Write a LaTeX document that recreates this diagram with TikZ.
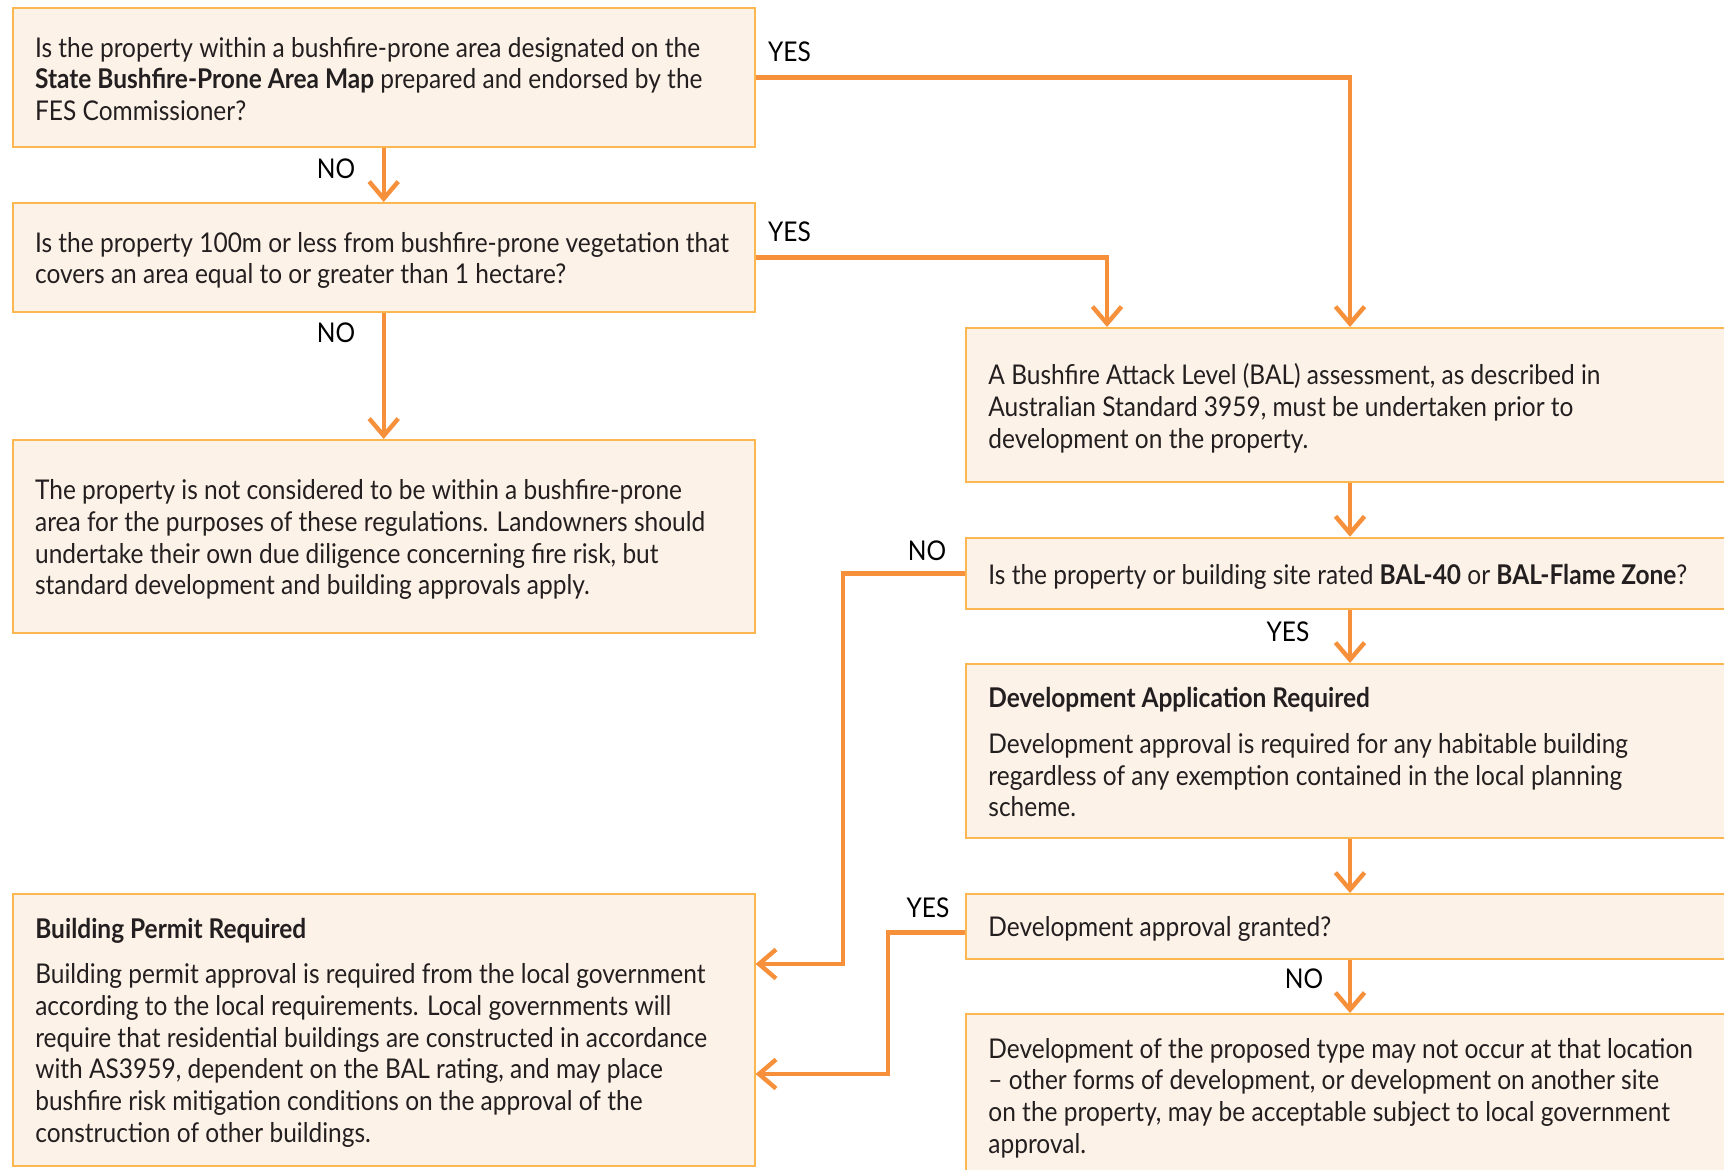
\documentclass[tikz,border=0pt]{standalone}
\usepackage{fontspec}
\setmainfont{Lato}[FakeStretch=0.9]
\usetikzlibrary{arrows.meta}
\definecolor{boxfill}{HTML}{FDF2E7}
\definecolor{boxline}{HTML}{FDB750}
\definecolor{connc}{HTML}{F7903A}
\definecolor{ink}{HTML}{231F20}
\begin{document}
\begin{tikzpicture}[x=0.5pt,y=-0.5pt,
  panel/.style={draw=boxline, fill=boxfill, line width=1pt, inner sep=0pt},
  txt/.style={anchor=base west, inner sep=0pt, text=ink, font=\fontsize{13.6pt}{15.83pt}\selectfont},
  lbl/.style={inner sep=0pt, text=black, font=\fontsize{13.6pt}{15.83pt}\selectfont},
  link/.style={draw=connc, line width=2.2pt, -{Straight Barb[length=8.5pt,width=14.5pt]}}
]
\useasboundingbox (0,0) rectangle (1724,1170);
\clip (0,0) rectangle (1724,1170);
\fill[white] (0,0) rectangle (1724,1170);

% left column boxes
\node[panel, minimum width=370.9pt, minimum height=69.65pt] (q1) at (383.7,77.35) {};
\node[panel, minimum width=370.9pt, minimum height=54.5pt] (q2) at (383.7,257.5) {};
\node[panel, minimum width=370.9pt, minimum height=96.5pt] (notq) at (383.7,536.5) {};
\node[panel, minimum width=370.9pt, minimum height=136pt] (bp) at (383.7,1030) {};
% right column boxes
\node[panel, minimum width=397pt, minimum height=77pt] (bal) at (1363,405) {};
\node[panel, minimum width=397pt, minimum height=35.8pt] (bal40) at (1363,573.5) {};
\node[panel, minimum width=397pt, minimum height=87pt] (devapp) at (1363,751) {};
\node[panel, minimum width=397pt, minimum height=32.5pt] (devok) at (1363,926.5) {};
\node[panel, minimum width=397pt, minimum height=93pt] (last) at (1363,1107) {};

% texts
\node[txt] (q1t) at (34.7,57.3) {\parbox[t]{480pt}{Is the property within a bushfire-prone area designated on the\\
\textbf{State Bushfire-Prone Area Map} prepared and endorsed by the\\
FES Commissioner?}};
\node[txt] (q2t) at (34.7,252.3) {\parbox[t]{480pt}{Is the property 100m or less from bushfire-prone vegetation that\\
covers an area equal to or greater than 1 hectare?}};
\node[txt] (notqt) at (34.7,500) {\parbox[t]{480pt}{The property is not considered to be within a bushfire-prone\\
area for the purposes of these regulations. Landowners should\\
undertake their own due diligence concerning fire risk, but\\
standard development and building approvals apply.}};
\node[txt] (bpt) at (34.9,938.3) {\parbox[t]{480pt}{\textbf{Building Permit Required}\\[7pt]
Building permit approval is required from the local government\\
according to the local requirements. Local governments will\\
require that residential buildings are constructed in accordance\\
with AS3959, dependent on the BAL rating, and may place\\
bushfire risk mitigation conditions on the approval of the\\
construction of other buildings.}};
\node[txt] (balt) at (988,385) {\parbox[t]{480pt}{A Bushfire Attack Level (BAL) assessment, as described in\\
Australian Standard 3959, must be undertaken prior to\\
development on the property.}};
\node[txt] (bal40t) at (988,585) {Is the property or building site rated \textbf{BAL-40} or \textbf{BAL-Flame Zone}?};
\node[txt] (devappt) at (988,707.7) {\parbox[t]{480pt}{\textbf{Development Application Required}\\[7pt]
Development approval is required for any habitable building\\
regardless of any exemption contained in the local planning\\
scheme.}};
\node[txt] (devokt) at (988,936.7) {Development approval granted?};
\node[txt] (lastt) at (988,1058.3) {\parbox[t]{480pt}{Development of the proposed type may not occur at that location\\
– other forms of development, or development on another site\\
on the property, may be acceptable subject to local government\\
approval.}};

% connectors
\coordinate (rc) at (1350,0);
\coordinate (c2) at (1107,0);
\coordinate (j1) at (843,964);
\coordinate (j2) at (888,1074);
\draw[link] (q1.south) -- (q2.north);
\draw[link] (q2.south) -- (notq.north);
\draw[link] (q1.east) -| (bal.north -| rc);
\draw[link] (q2.east) -| (bal.north -| c2);
\draw[link] (bal.south -| rc) -- (bal40.north -| rc);
\draw[link] (bal40.south -| rc) -- (devapp.north -| rc);
\draw[link] (devapp.south -| rc) -- (devok.north -| rc);
\draw[link] (devok.south -| rc) -- (last.north -| rc);
\draw[link] (bal40.west) -| (j1) -- (j1 -| bp.east);
\draw[link] ([yshift=-3pt]devok.west) -| (j2) -- (j2 -| bp.east);

% labels
\node[lbl] (l1) at (336,168.5) {NO};
\node[lbl] (l2) at (336,333) {NO};
\node[lbl] (l3) at (789.5,52) {YES};
\node[lbl] (l4) at (789.5,232) {YES};
\node[lbl] (l5) at (927,551) {NO};
\node[lbl] (l6) at (1288,631.7) {YES};
\node[lbl] (l7) at (928,908) {YES};
\node[lbl] (l8) at (1304,979) {NO};
\end{tikzpicture}
\end{document}
